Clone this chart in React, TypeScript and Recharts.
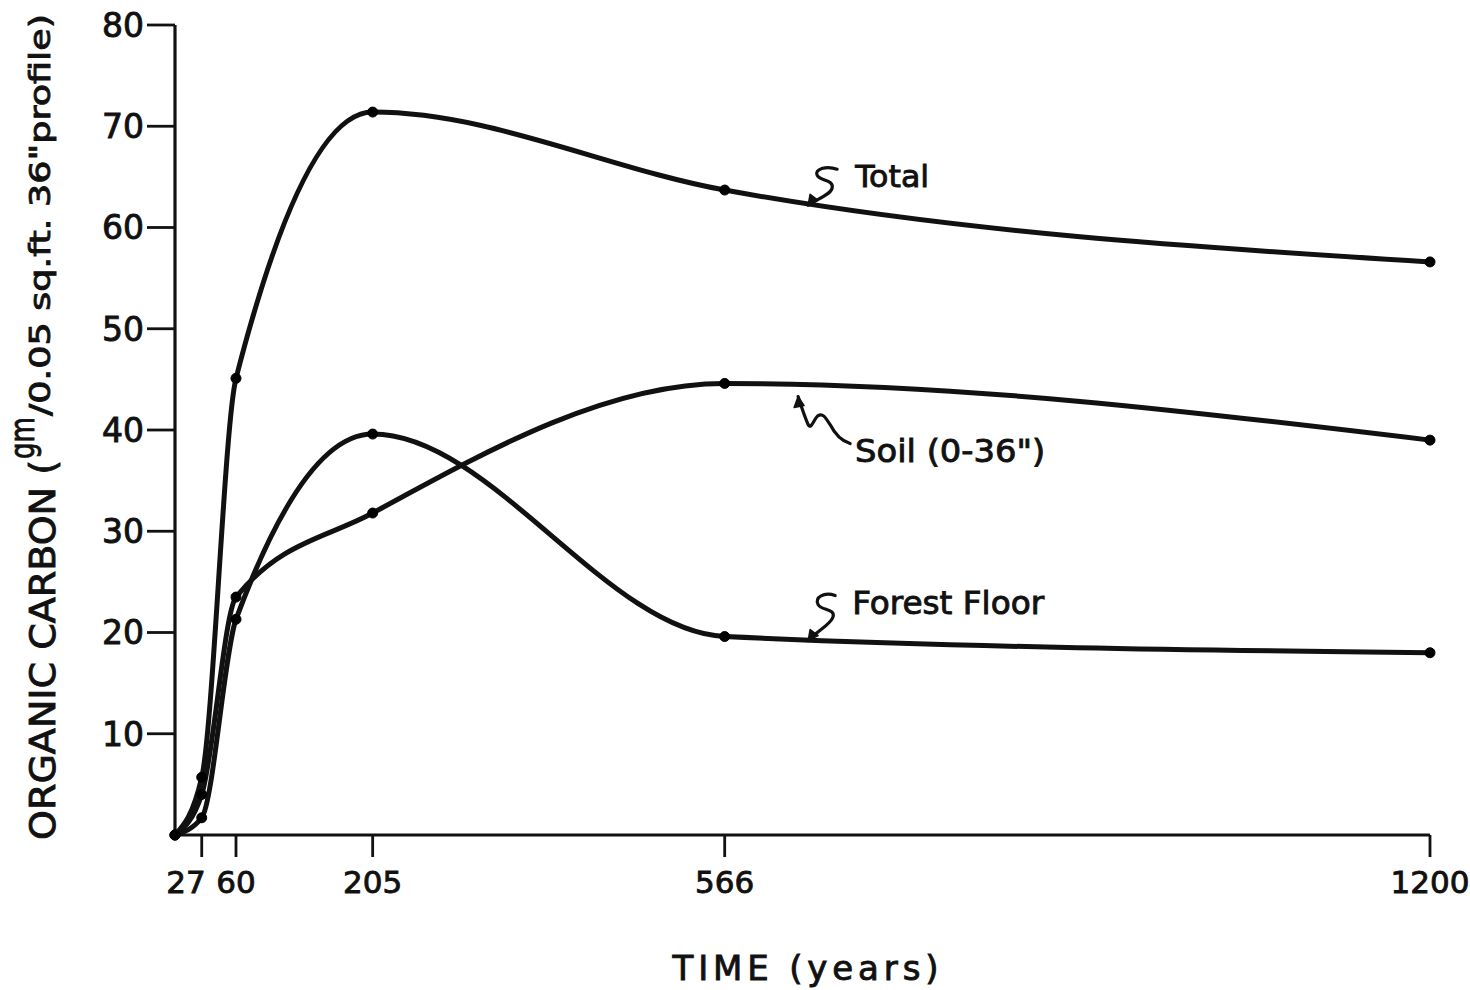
import React from 'react';
import { LineChart, Line, XAxis, YAxis, ReferenceDot, Label } from 'recharts';

// ---- data ----
const years = [0, 27, 60, 205, 566, 1200];
const totalCarbon = [0, 5.7, 45.1, 71.4, 63.7, 56.6];
const soilCarbon = [0, 4.0, 23.5, 31.8, 44.6, 39.0];
const forestFloorCarbon = [0, 1.7, 21.3, 39.6, 19.6, 18.0];

const xTicks = [27, 60, 205, 566, 1200];
const yTicks = [10, 20, 30, 40, 50, 60, 70, 80];

const seriesLabels = ['Total', 'Soil (0-36")', 'Forest Floor'];
const labelYears = [641, 632, 641];
const labelValues = [62.2, 43.3, 19.2];

// the original time axis is hand drawn and not uniform: fraction of axis length at each tick
const axisKnotYears = [0, 27, 60, 205, 566, 1200];
const axisKnotFractions = [0, 0.0213, 0.0486, 0.1575, 0.438, 1];

const data = years.map((y, i) => ({
  year: y,
  total: totalCarbon[i],
  soil: soilCarbon[i],
  forest: forestFloorCarbon[i],
}));

const FONT = '"DejaVu Sans", "Liberation Sans", sans-serif';
const INK = '#111';
const TEXT_STROKE = 0.9;

function piecewise(xs: number[], ys: number[], v: number): number {
  const n = xs.length;
  let i = 0;
  if (v <= xs[0]) i = 0;
  else if (v >= xs[n - 1]) i = n - 2;
  else {
    while (i < n - 2 && v > xs[i + 1]) i++;
  }
  const t = (v - xs[i]) / (xs[i + 1] - xs[i]);
  return ys[i] + t * (ys[i + 1] - ys[i]);
}

function makeHandScale(): any {
  let dom: number[] = [0, 1200];
  let rng: number[] = [0, 1];
  const s: any = (v: number) => rng[0] + piecewise(axisKnotYears, axisKnotFractions, v) * (rng[1] - rng[0]);
  s.domain = function (d?: number[]) {
    if (!arguments.length) return dom.slice();
    dom = Array.from(d as number[]);
    return s;
  };
  s.range = function (r?: number[]) {
    if (!arguments.length) return rng.slice();
    rng = Array.from(r as number[]);
    return s;
  };
  s.copy = function () {
    return makeHandScale().domain(dom).range(rng);
  };
  s.ticks = function () {
    return xTicks.slice();
  };
  s.tickFormat = function () {
    return (v: number) => String(v);
  };
  s.invert = function (px: number) {
    return piecewise(axisKnotFractions, axisKnotYears, (px - rng[0]) / (rng[1] - rng[0]));
  };
  return s;
}

const handScale = makeHandScale();

const YTick = (p: any) => (
  <text
    x={p.x}
    y={p.y}
    dy="0.36em"
    textAnchor="end"
    fontFamily={FONT}
    fontSize={33}
    fill={INK}
    stroke={INK}
    strokeWidth={TEXT_STROKE}
  >
    {p.payload.value}
  </text>
);

const XTick = (p: any) => {
  const crowded = p.payload.value === 27;
  return (
    <text
      x={crowded ? p.x + 4 : p.x}
      y={p.y}
      dy={36}
      textAnchor={crowded ? 'end' : 'middle'}
      fontFamily={FONT}
      fontSize={31}
      fill={INK}
      stroke={INK}
      strokeWidth={TEXT_STROKE}
    >
      {p.payload.value}
    </text>
  );
};

const YTitle = (props: any) => {
  const vb = props.viewBox || { x: 0, y: 25, width: 175, height: 810 };
  const bottom = vb.y + vb.height + 5;
  const parts = [
    { text: 'ORGANIC CARBON (', x: vb.x + 55, y: bottom, size: 35, len: 380 },
    { text: 'gm', x: vb.x + 34, y: bottom - 381, size: 33, len: 42 },
    { text: '/0.05 sq.ft. 36"profile)', x: vb.x + 50, y: bottom - 424, size: 29, len: 402 },
  ];
  return (
    <g>
      {parts.map((p, i) => (
        <text
          key={i}
          x={p.x}
          y={p.y}
          transform={`rotate(-90, ${p.x}, ${p.y})`}
          textAnchor="start"
          fontFamily={FONT}
          fontSize={p.size}
          fill={INK}
          stroke={INK}
          strokeWidth={TEXT_STROKE}
          textLength={p.len}
          lengthAdjust="spacingAndGlyphs"
        >
          {p.text}
        </text>
      ))}
    </g>
  );
};

const XTitle = (props: any) => {
  const vb = props.viewBox || { x: 175, y: 835, width: 1255, height: 155 };
  const cx = vb.x + vb.width / 2 + 3;
  return (
    <text
      x={cx}
      y={vb.y + 145}
      textAnchor="middle"
      fontFamily={FONT}
      fontSize={34}
      fill={INK}
      stroke={INK}
      strokeWidth={TEXT_STROKE}
      textLength={266}
      lengthAdjust="spacing"
    >
      TIME (years)
    </text>
  );
};

// annotation squiggles, relative to arrow tip
const squiggles = [
  {
    path: 'M29,-36 C18,-40 6,-36 9,-30 C12,-24 26,-26 24,-17 C22,-10 8,-6 0,0',
    head: 'M0,0 L2,-11 L10,-5 Z',
    tx: 47,
    ty: -18,
    size: 31,
    len: 74,
  },
  {
    path: 'M0,0 C2,6 5,16 10,28 C13,34 16,22 20,19 C25,16 28,22 32,28 C36,36 42,44 52,47',
    head: 'M0,0 L-4,11 L6,9 Z',
    tx: 57,
    ty: 65,
    size: 32,
    len: 190,
  },
  {
    path: 'M27,-45 C16,-49 6,-43 10,-36 C13,-30 27,-32 25,-24 C23,-16 8,-9 0,0',
    head: 'M0,0 L2,-11 L10,-5 Z',
    tx: 44,
    ty: -27,
    size: 32,
    len: 192,
  },
];

const makeAnnotation = (idx: number) => (p: any) => {
  const s = squiggles[idx];
  const cx = p.cx;
  const cy = p.cy;
  if (cx == null || cy == null) return <g />;
  return (
    <g transform={`translate(${cx}, ${cy})`}>
      <path d={s.path} fill="none" stroke={INK} strokeWidth={3.2} strokeLinecap="round" />
      <path d={s.head} fill={INK} stroke={INK} strokeWidth={1.5} strokeLinejoin="round" />
      <text
        x={s.tx}
        y={s.ty}
        fontFamily={FONT}
        fontSize={s.size}
        fill={INK}
        stroke={INK}
        strokeWidth={TEXT_STROKE}
        textLength={s.len}
        lengthAdjust="spacingAndGlyphs"
      >
        {seriesLabels[idx]}
      </text>
    </g>
  );
};

const dotStyle = { r: 5, fill: '#000', stroke: '#000', strokeWidth: 1 };

export default function App() {
  return (
    <div style={{ position: 'absolute', left: 0, top: 0, width: 1470, height: 990, background: '#fff' }}>
      <LineChart
        width={1470}
        height={990}
        data={data}
        margin={{ top: 25, right: 40, left: 0, bottom: 0 }}
      >
        <XAxis
          dataKey="year"
          type="number"
          scale={handScale}
          domain={[0, 1200]}
          ticks={xTicks}
          interval={0}
          height={155}
          tickSize={22}
          tickMargin={0}
          axisLine={{ stroke: INK, strokeWidth: 3.2 }}
          tickLine={{ stroke: INK, strokeWidth: 2.8 }}
          tick={<XTick />}
        >
          <Label content={<XTitle />} />
        </XAxis>
        <YAxis
          type="number"
          domain={[0, 80]}
          ticks={yTicks}
          interval={0}
          width={175}
          tickSize={28}
          tickMargin={3}
          axisLine={{ stroke: INK, strokeWidth: 3.2 }}
          tickLine={{ stroke: INK, strokeWidth: 2.8 }}
          tick={<YTick />}
        >
          <Label content={<YTitle />} />
        </YAxis>
        <Line
          type="monotone"
          dataKey="total"
          name="Total"
          stroke={INK}
          strokeWidth={5}
          dot={dotStyle}
          isAnimationActive={false}
        />
        <Line
          type="monotone"
          dataKey="soil"
          name='Soil (0-36")'
          stroke={INK}
          strokeWidth={5}
          dot={dotStyle}
          isAnimationActive={false}
        />
        <Line
          type="monotone"
          dataKey="forest"
          name="Forest Floor"
          stroke={INK}
          strokeWidth={5}
          dot={dotStyle}
          isAnimationActive={false}
        />
        {labelYears.map((yr, i) => (
          <ReferenceDot
            key={i}
            x={yr}
            y={labelValues[i]}
            r={0}
            ifOverflow="visible"
            shape={makeAnnotation(i)}
          />
        ))}
      </LineChart>
    </div>
  );
}
